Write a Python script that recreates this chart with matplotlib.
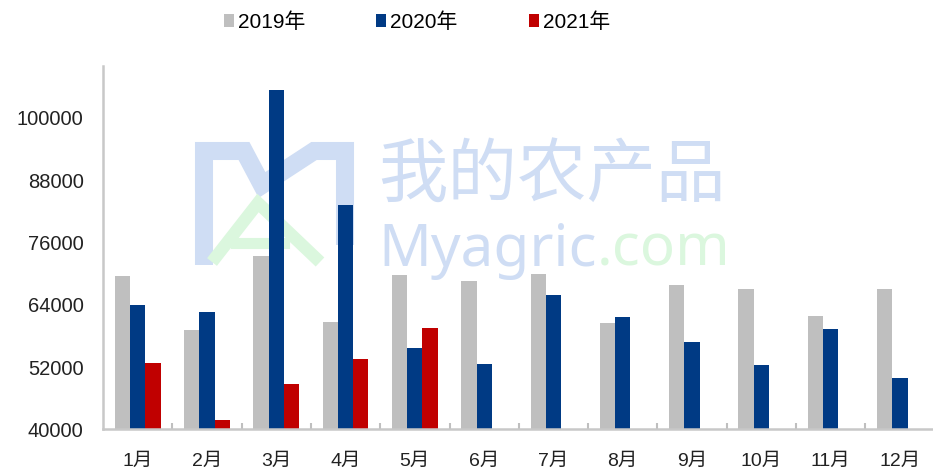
import matplotlib
matplotlib.use("Agg")
import matplotlib.pyplot as plt
import numpy as np
from matplotlib.lines import Line2D

plt.rcParams['font.family'] = ['Liberation Sans', 'Noto Sans CJK SC', 'DejaVu Sans']

months = ["1月", "2月", "3月", "4月", "5月", "6月", "7月", "8月", "9月", "10月", "11月", "12月"]
years = ["2019年", "2020年", "2021年"]
v2019 = [69500, 59100, 73400, 60600, 69700, 68600, 70000, 60400, 67700, 67000, 61800, 67000]
v2020 = [64000, 62500, 105300, 83300, 55700, 52500, 65800, 61600, 56900, 52400, 59400, 49900]
v2021 = [52700, 41800, 48700, 53500, 59500, np.nan, np.nan, np.nan, np.nan, np.nan, np.nan, np.nan]
colors = ["#BFBFBF", "#003A84", "#C00000"]
yticks = [40000, 52000, 64000, 76000, 88000, 100000]

W, H = 933, 471
fig = plt.figure(figsize=(W / 100, H / 100), dpi=100)

# watermark layer (pixel coordinates)
bg = fig.add_axes([0, 0, 1, 1], zorder=0)
bg.set_xlim(0, W); bg.set_ylim(H, 0); bg.axis("off")
wm_blue, wm_green = "#CFDDF4", "#DBF7DE"
bg.add_line(Line2D([204, 204, 244, 262, 314, 345, 345], [265, 151, 151, 185, 151, 151, 245],
                   color=wm_blue, lw=13, solid_joinstyle="miter", solid_capstyle="butt"))
bg.add_line(Line2D([212, 258, 320], [262, 203, 262], color=wm_green, lw=9,
                   solid_joinstyle="miter", solid_capstyle="butt"))
bg.add_line(Line2D([236, 284], [243, 243], color=wm_green, lw=8))
bg.text(378, 176, "我的农产品", fontsize=50, color=wm_blue, va="center", ha="left",
        family=["Noto Sans CJK SC"], fontweight="medium")
t = bg.text(378, 266, "Myagric", fontsize=42, color=wm_blue, va="baseline", ha="left",
            family=["Noto Sans"], fontweight="medium")
bg.annotate(".com", xy=(1, 0), xycoords=t, va="bottom", ha="left", fontsize=42,
            color=wm_green, family=["Noto Sans"], fontweight="medium")

ax = fig.add_axes([103 / W, (H - 429.3) / H, 831.6 / W, 363.4 / H], zorder=1)
ax.set_facecolor("none")
x = np.arange(len(months))
w = 0.22
for i, (vals, lab) in enumerate(zip([v2019, v2020, v2021], years)):
    ax.bar(x + (i - 1) * w, np.array(vals) - 40000, w, bottom=40000,
           color=colors[i], label=lab, zorder=2)

ax.set_xlim(-0.5, len(months) - 0.5)
ax.set_ylim(40000, 110000)
ax.set_yticks(yticks)
ax.set_yticklabels([str(v) for v in yticks])
ax.set_xticks(x)
ax.set_xticklabels(months)
ax.set_xticks(np.arange(0.5, len(months) - 0.5, 1), minor=True)
ax.tick_params(axis="x", which="major", length=0, pad=17, labelsize=14, colors="#222222")
ax.tick_params(axis="x", which="minor", length=4, direction="in", color="#BFBFBF", width=1.5)
ax.tick_params(axis="y", length=0, pad=14, labelsize=14.5, colors="#222222")
for s in ["top", "right"]:
    ax.spines[s].set_visible(False)
for s in ["left", "bottom"]:
    ax.spines[s].set_color("#C8C8C8")
    ax.spines[s].set_linewidth(1.8)

fig.legend(loc="center", bbox_to_anchor=(417 / W, 1 - 22 / H), ncol=3, frameon=False,
           fontsize=15, handlelength=0.48, handleheight=0.65, handletextpad=0.2,
           columnspacing=3.4)

fig.savefig("out.png", dpi=100)
